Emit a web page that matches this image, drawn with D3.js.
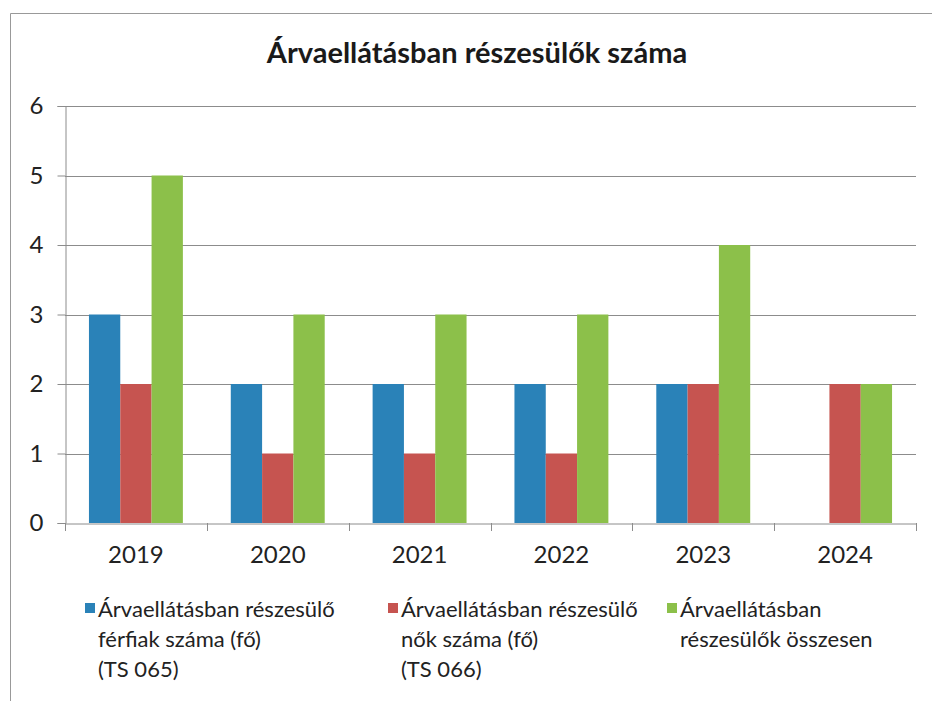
<!DOCTYPE html>
<html><head><meta charset="utf-8">
<script src="https://cdn.jsdelivr.net/npm/d3@7"></script>
<style>body{margin:0;background:#fff;} svg{display:block;font-family:Lato, "Open Sans", sans-serif;}</style>
</head><body>
<script>
const categories = ["2019","2020","2021","2022","2023","2024"];
const seriesNames = [
  ["Árvaellátásban részesülő","férfiak száma (fő)","(TS 065)"],
  ["Árvaellátásban részesülő","nők száma (fő)","(TS 066)"],
  ["Árvaellátásban","részesülők összesen"]
];
const men = [3,2,2,2,2,0];
const women = [2,1,1,1,2,2];
const total = [5,3,3,3,4,2];
const yTicks = [0,1,2,3,4,5,6];
const colors = ["#2a82b8","#c65450","#8cc04a"];
const title = "Árvaellátásban részesülők száma";

(function(){
const W=932,H=701;
const svg=d3.select("body").append("svg").attr("width",W).attr("height",H);
svg.append("rect").attr("width",W).attr("height",H).attr("fill","#fff");
// frame
svg.append("path").attr("d","M10.5,701 V13.5 H932").attr("fill","none").attr("stroke","#999").attr("stroke-width",1);

const pL=65,pR=916,pT=106,pB=523;
const x=d3.scaleBand().domain(categories).range([pL,pR]).paddingInner(0).paddingOuter(0);
const y=d3.scaleLinear().domain([0,6]).range([pB,pT]);
const keys=["m","w","t"];
const x1=d3.scaleBand().domain(keys).range([0,x.bandwidth()]).paddingOuter(0.765).paddingInner(0);
const data=categories.map((c,i)=>({c,vals:[men[i],women[i],total[i]]}));

// grid
svg.append("g").selectAll("line").data(yTicks.filter(d=>d>0)).join("line")
  .attr("x1",pL).attr("x2",pR).attr("y1",d=>Math.round(y(d))+0.5).attr("y2",d=>Math.round(y(d))+0.5)
  .attr("stroke","#8c8c8c").attr("stroke-width",1);

// bars
const g=svg.append("g").selectAll("g").data(data).join("g").attr("transform",d=>`translate(${x(d.c)},0)`);
g.selectAll("rect").data(d=>d.vals.map((v,k)=>({k:keys[k],v,col:colors[k]}))).join("rect")
  .attr("x",d=>x1(d.k)).attr("width",x1.bandwidth())
  .attr("y",d=>y(d.v)).attr("height",d=>y(0)-y(d.v)).attr("fill",d=>d.col);

// y axis
const yAxis=d3.axisLeft(y).tickValues(yTicks).tickSize(8).tickPadding(14).tickFormat(d3.format("d"));
const ya=svg.append("g").attr("transform",`translate(${pL+0.5},0)`).call(yAxis);
ya.select(".domain").attr("stroke","#8c8c8c");
ya.selectAll(".tick line").attr("stroke","#8c8c8c");
ya.selectAll("text").attr("font-size",24).attr("fill","#222").attr("font-family","Lato");

// x axis
const xTickPos=categories.map(c=>x(c)).concat([pR]);
const xa=svg.append("g").attr("transform",`translate(0,${pB+0.5})`).call(d3.axisBottom(x).tickSize(0).tickPadding(22));
xa.select(".domain").attr("stroke","#8c8c8c");
xa.selectAll("text").attr("font-size",24).attr("fill","#222").attr("font-family","Lato");
svg.append("g").selectAll("line").data(xTickPos).join("line")
  .attr("x1",d=>Math.round(d)+0.5).attr("x2",d=>Math.round(d)+0.5).attr("y1",pB).attr("y2",pB+8)
  .attr("stroke","#8c8c8c");

// title
svg.append("text").attr("x",477).attr("y",63).attr("text-anchor","middle")
  .attr("font-size",29).attr("font-weight","bold").attr("fill","#1a1a1a").text(title);

// legend
const legX=[85,388,667];
const lg=svg.append("g").selectAll("g").data(seriesNames).join("g").attr("transform",(d,i)=>`translate(${legX[i]},603)`);
lg.append("rect").attr("width",10).attr("height",10).attr("fill",(d,i)=>colors[i]);
lg.each(function(lines){
  d3.select(this).selectAll("text").data(lines).join("text")
    .attr("x",13).attr("y",(d,j)=>14+j*30).attr("font-size",22).attr("fill","#222").text(d=>d);
});
})();
</script>
</body></html>
